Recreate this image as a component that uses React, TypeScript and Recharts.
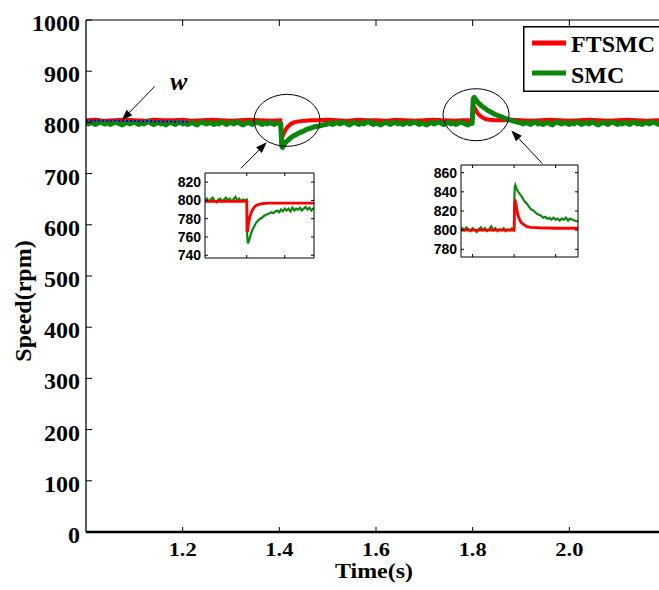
import { LineChart, Line, XAxis, YAxis, Legend, ReferenceDot } from "recharts";

const SERIF = '"Liberation Serif", "Times New Roman", serif';
const SANS = '"Liberation Sans", Arial, sans-serif';

// main chart axes
const xTicks = [1.2, 1.4, 1.6, 1.8, 2.0];
const yTicks = [0, 100, 200, 300, 400, 500, 600, 700, 800, 900, 1000];

// SMC speed (green)
const smcTime = [
  1.0, 1.005, 1.01, 1.015, 1.02, 1.025, 1.03, 1.035, 1.04, 1.045,
  1.05, 1.055, 1.06, 1.065, 1.07, 1.075, 1.08, 1.085, 1.09, 1.095,
  1.1, 1.105, 1.11, 1.115, 1.12, 1.125, 1.13, 1.135, 1.14, 1.145,
  1.15, 1.155, 1.16, 1.165, 1.17, 1.175, 1.18, 1.185, 1.19, 1.195,
  1.2, 1.205, 1.21, 1.215, 1.22, 1.225, 1.23, 1.235, 1.24, 1.245,
  1.25, 1.255, 1.26, 1.265, 1.27, 1.275, 1.28, 1.285, 1.29, 1.295,
  1.3, 1.305, 1.31, 1.315, 1.32, 1.325, 1.33, 1.335, 1.34, 1.345,
  1.35, 1.355, 1.36, 1.365, 1.37, 1.375, 1.38, 1.385, 1.39, 1.395,
  1.4,
  1.403, 1.405, 1.407, 1.41, 1.414, 1.42, 1.425, 1.43, 1.436, 1.442, 1.45, 1.458, 1.466, 1.474, 1.482, 1.49, 1.5,
  1.505, 1.51, 1.515, 1.52, 1.525, 1.53, 1.535, 1.54, 1.545, 1.55,
  1.555, 1.56, 1.565, 1.57, 1.575, 1.58, 1.585, 1.59, 1.595, 1.6,
  1.605, 1.61, 1.615, 1.62, 1.625, 1.63, 1.635, 1.64, 1.645, 1.65,
  1.655, 1.66, 1.665, 1.67, 1.675, 1.68, 1.685, 1.69, 1.695, 1.7,
  1.705, 1.71, 1.715, 1.72, 1.725, 1.73, 1.735, 1.74, 1.745, 1.75,
  1.755, 1.76, 1.765, 1.77, 1.775, 1.78, 1.785, 1.79, 1.795,
  1.799, 1.801, 1.803, 1.806, 1.81, 1.815, 1.82, 1.826, 1.832, 1.84, 1.848, 1.856, 1.864, 1.872, 1.88, 1.89, 1.9,
  1.905, 1.91, 1.915, 1.92, 1.925, 1.93, 1.935, 1.94, 1.945, 1.95,
  1.955, 1.96, 1.965, 1.97, 1.975, 1.98, 1.985, 1.99, 1.995, 2.0,
  2.005, 2.01, 2.015, 2.02, 2.025, 2.03, 2.035, 2.04, 2.045, 2.05,
  2.055, 2.06, 2.065, 2.07, 2.075, 2.08, 2.085, 2.09, 2.095, 2.1,
  2.105, 2.11, 2.115, 2.12, 2.125, 2.13, 2.135, 2.14, 2.145, 2.15,
  2.155, 2.16, 2.165, 2.17, 2.175, 2.18, 2.185, 2.19, 2.195, 2.2,
];
const smcSpeed = [
  799, 797, 800, 798, 796, 799, 801, 798, 797, 800,
  796, 798, 801, 799, 797, 795, 798, 800, 797, 799,
  801, 798, 796, 799, 797, 800, 802, 798, 796, 798,
  800, 797, 799, 795, 798, 800, 798, 796, 799, 801,
  797, 799, 796, 798, 800, 797, 795, 799, 801, 798,
  797, 800, 798, 796, 799, 797, 801, 799, 796, 798,
  800, 797, 799, 801, 797, 795, 798, 800, 798, 796,
  799, 801, 798, 796, 799, 797, 800, 798, 796, 799,
  798,
  797, 753, 751, 757, 762, 767, 771, 774, 777, 780, 783, 787, 789, 792, 793, 795, 797,
  799, 796, 798, 800, 797, 799, 801, 797, 795, 798,
  800, 798, 796, 799, 797, 800, 802, 798, 796, 799,
  797, 795, 798, 800, 798, 796, 799, 801, 797, 799,
  796, 798, 800, 797, 799, 801, 798, 796, 799, 797,
  795, 798, 800, 797, 799, 801, 798, 796, 798, 800,
  797, 799, 796, 798, 801, 799, 797, 795, 798,
  798, 845, 849, 845, 840, 835, 831, 827, 823, 819, 815, 812, 809, 806, 804, 801, 799,
  797, 800, 798, 796, 799, 801, 797, 799, 796, 798,
  800, 797, 795, 799, 801, 798, 797, 800, 798, 796,
  799, 797, 801, 799, 796, 798, 800, 797, 799, 801,
  797, 795, 798, 800, 798, 796, 799, 801, 798, 796,
  799, 797, 800, 798, 796, 799, 801, 797, 799, 796,
  798, 800, 797, 799, 801, 798, 796, 799, 797, 799,
];

// FTSMC speed (red)
const ftsmcTime = [
  1.0, 1.02, 1.04, 1.06, 1.08, 1.1, 1.12, 1.14, 1.16, 1.18, 1.2, 1.22, 1.24, 1.26, 1.28, 1.3, 1.32, 1.34, 1.36, 1.38,
  1.402, 1.404, 1.406, 1.409, 1.413, 1.418, 1.424, 1.43, 1.44, 1.452, 1.466, 1.48, 1.5, 1.52, 1.54, 1.56, 1.58, 1.6,
  1.62, 1.64, 1.66, 1.68, 1.7, 1.72, 1.74, 1.76, 1.78, 1.799, 1.801, 1.803, 1.806, 1.81, 1.815, 1.821, 1.828, 1.836,
  1.846, 1.86, 1.88, 1.9, 1.92, 1.94, 1.96, 1.98, 2.0, 2.02, 2.04, 2.06, 2.08, 2.1, 2.12, 2.14, 2.16, 2.18, 2.2,
];
const ftsmcSpeed = [
  804, 805, 803, 804, 805, 804, 803, 805, 804, 804, 805, 803, 804, 805, 804, 803, 804, 805, 804, 803,
  804, 772, 771, 778, 786, 792, 797, 800, 802, 803, 804, 804, 805, 804, 803, 805, 804, 804,
  803, 805, 804, 803, 804, 805, 804, 803, 804, 804, 827, 830, 825, 818, 813, 809, 806, 805,
  804, 804, 805, 804, 803, 804, 805, 804, 803, 804, 805, 804, 803, 804, 805, 804, 803, 804, 804,
];

// reference speed w (blue dotted)
const refTime = [1.0, 1.21];
const refSpeed = [804, 801];

// inset 1: load step at 1.4 s
const in1XTicks = [1.4, 1.5];
const in1YTicks = [740, 760, 780, 800, 820];
const in1SmcTime = [
  1.29, 1.295, 1.3, 1.305, 1.31, 1.315, 1.32, 1.325, 1.33, 1.335, 1.34, 1.345, 1.35, 1.355, 1.36, 1.365, 1.37, 1.375,
  1.38, 1.385, 1.39, 1.395, 1.4, 1.4005, 1.401, 1.403, 1.406, 1.41, 1.415, 1.42, 1.425, 1.43, 1.435, 1.44, 1.445, 1.45,
  1.455, 1.46, 1.465, 1.47, 1.475, 1.48, 1.485, 1.49, 1.495, 1.5, 1.505, 1.51, 1.515, 1.52, 1.525, 1.53, 1.535, 1.54,
  1.545, 1.55, 1.555, 1.56, 1.565, 1.57, 1.577,
];
const in1SmcSpeed = [
  800, 802, 799, 801, 803, 800, 798, 801, 802, 799, 801, 803, 800, 802, 799, 801, 804, 800,
  802, 799, 801, 800, 801, 790, 762, 753, 756, 762, 768, 772, 776, 778, 780, 781, 783, 784,
  785, 786, 787, 786, 788, 789, 787, 790, 788, 791, 789, 791, 788, 792, 789, 791, 790, 792,
  789, 791, 793, 790, 792, 789, 792,
];
const in1FtsmcTime = [1.29, 1.33, 1.37, 1.4, 1.4005, 1.402, 1.405, 1.408, 1.412, 1.417, 1.423, 1.43, 1.44, 1.46, 1.5, 1.54, 1.577];
const in1FtsmcSpeed = [799, 799, 799, 799, 767, 767, 776, 782, 787, 791, 794, 795.5, 796.5, 797, 797, 797, 797];

// inset 2: load drop at 1.8 s
const in2XTicks = [1.7, 1.8, 1.9];
const in2YTicks = [780, 800, 820, 840, 860];
const in2SmcTime = [
  1.672, 1.675, 1.68, 1.685, 1.69, 1.695, 1.7, 1.705, 1.71, 1.715, 1.72, 1.725, 1.73, 1.735, 1.74, 1.745, 1.75, 1.755,
  1.76, 1.765, 1.77, 1.775, 1.78, 1.785, 1.79, 1.795, 1.8, 1.8005, 1.8015, 1.803, 1.806, 1.81, 1.815, 1.82, 1.825, 1.83,
  1.835, 1.84, 1.845, 1.85, 1.855, 1.86, 1.865, 1.87, 1.875, 1.88, 1.885, 1.89, 1.895, 1.9, 1.905, 1.91, 1.915, 1.92,
  1.925, 1.93, 1.935, 1.94, 1.945, 1.954,
];
const in2SmcSpeed = [
  799, 802, 800, 803, 801, 799, 802, 800, 798, 801, 803, 800, 802, 799, 801, 804, 800, 802,
  799, 801, 800, 802, 799, 801, 800, 802, 800, 830, 845, 847, 843, 840, 837, 834, 830, 828,
  825, 822, 821, 819, 817, 816, 815, 813, 814, 812, 813, 811, 813, 811, 812, 810, 812, 811,
  813, 810, 812, 811, 810, 809,
];
const in2FtsmcTime = [1.672, 1.72, 1.76, 1.8, 1.8008, 1.802, 1.805, 1.808, 1.812, 1.817, 1.823, 1.83, 1.84, 1.86, 1.9, 1.954];
const in2FtsmcSpeed = [800, 800, 800, 800, 818, 832, 826, 818, 812, 808, 806, 804, 803, 802.5, 802, 802];

const zip = (t: number[], v: number[]) => t.map((x, i) => ({ t: x, v: v[i] }));

const smcData = zip(smcTime, smcSpeed);
const ftsmcData = zip(ftsmcTime, ftsmcSpeed);
const refData = zip(refTime, refSpeed);

const RED = "#ff0000";
const GREEN = "#0a870a";

const MainYTick = (p: any) => (
  <g>
    <line x1={p.x} x2={p.x + 6} y1={p.y} y2={p.y} stroke="#000" strokeWidth={1} />
    <text x={p.x - 6} y={p.y + 3} textAnchor="end" dominantBaseline="central" fontFamily={SERIF} fontSize={24} fontWeight="bold" fill="#000">
      {p.payload.value}
    </text>
  </g>
);

const MainXTick = (p: any) => (
  <g>
    <line x1={p.x} x2={p.x} y1={p.y} y2={p.y - 5} stroke="#000" strokeWidth={1} />
    <text x={p.x} y={p.y + 18} textAnchor="middle" dominantBaseline="central" fontFamily={SERIF} fontSize={18} fontWeight="bold" fill="#000" textLength={28} lengthAdjust="spacingAndGlyphs">
      {Number(p.payload.value).toFixed(1)}
    </text>
  </g>
);

const TopTick = (len: number) => (p: any) => <line x1={p.x} x2={p.x} y1={p.y} y2={p.y + len} stroke="#000" strokeWidth={1} />;
const BottomTick = (len: number) => (p: any) => <line x1={p.x} x2={p.x} y1={p.y} y2={p.y - len} stroke="#000" strokeWidth={1} />;
const RightTick = (len: number) => (p: any) => <line x1={p.x} x2={p.x - len} y1={p.y} y2={p.y} stroke="#000" strokeWidth={1} />;

const InsetYTick = (p: any) => (
  <g>
    <line x1={p.x} x2={p.x + 3} y1={p.y} y2={p.y} stroke="#000" strokeWidth={1} />
    <text x={p.x - 4} y={p.y} textAnchor="end" dominantBaseline="central" fontFamily={SANS} fontSize={14} fontWeight="bold" fill="#000">
      {p.payload.value}
    </text>
  </g>
);

const arrowShape = (dx: number, dy: number, label?: string) => (p: any) => {
  const { cx, cy } = p;
  const len = Math.hypot(dx, dy);
  const ux = -dx / len;
  const uy = -dy / len;
  const hl = 11;
  const hw = 4;
  const bx = cx - ux * hl;
  const by = cy - uy * hl;
  const pts = `${cx},${cy} ${bx - uy * hw},${by + ux * hw} ${bx + uy * hw},${by - ux * hw}`;
  return (
    <g>
      <line x1={cx + dx} y1={cy + dy} x2={bx} y2={by} stroke="#000" strokeWidth={1} />
      <polygon points={pts} fill="#000" />
      {label && (
        <text x={cx + 57} y={cy - 39} textAnchor="middle" dominantBaseline="central" fontFamily={SERIF} fontSize={26} fontWeight="bold" fontStyle="italic" fill="#000">
          {label}
        </text>
      )}
    </g>
  );
};

const ellipseShape = (p: any) => <ellipse cx={p.cx} cy={p.cy} rx={33} ry={26} fill="none" stroke="#000" strokeWidth={1} />;

const renderLegend = (props: any) => (
  <svg width={170} height={66} style={{ display: "block" }}>
    <rect x={0.75} y={0.75} width={180} height={64.5} fill="#fff" stroke="#000" strokeWidth={1.5} />
    {(props.payload || []).map((e: any, i: number) => (
      <g key={e.value}>
        <line x1={9} x2={43} y1={17 + 30 * i} y2={17 + 30 * i} stroke={e.color} strokeWidth={5} />
        <text x={48} y={26 + 31 * i} fontFamily={SERIF} fontSize={24} fontWeight="bold" fill="#000">
          {e.value}
        </text>
      </g>
    ))}
  </svg>
);

type InsetProps = {
  left: number;
  top: number;
  w: number;
  h: number;
  xDomain: number[];
  xTicks: number[];
  yDomain: number[];
  yTicks: number[];
  smc: { t: number; v: number }[];
  ftsmc: { t: number; v: number }[];
};

// left/top/w/h give the plot box of the inset on the page
const Inset = ({ left, top, w, h, xDomain, xTicks, yDomain, yTicks, smc, ftsmc }: InsetProps) => (
  <div style={{ position: "absolute", left: left - 40, top: top - 7 }}>
    <LineChart width={40 + w + 1 + 4} height={h + 16} margin={{ top: 6, right: 4, bottom: 8, left: 0 }}>
      <XAxis dataKey="t" type="number" domain={xDomain} ticks={xTicks} interval={0} height={1} tickSize={0} tickMargin={0}
        axisLine={{ stroke: "#000" }} tickLine={false} tick={BottomTick(3)} allowDataOverflow />
      <XAxis xAxisId="top" dataKey="t" type="number" orientation="top" domain={xDomain} ticks={xTicks} interval={0} height={1}
        tickSize={0} tickMargin={0} axisLine={{ stroke: "#000" }} tickLine={false} tick={TopTick(3)} allowDataOverflow />
      <YAxis type="number" domain={yDomain} ticks={yTicks} interval={0} width={40} tickSize={0} tickMargin={0}
        axisLine={{ stroke: "#000" }} tickLine={false} tick={InsetYTick} allowDataOverflow />
      <YAxis yAxisId="right" orientation="right" type="number" domain={yDomain} ticks={yTicks} interval={0} width={1}
        tickSize={0} tickMargin={0} axisLine={{ stroke: "#000" }} tickLine={false} tick={RightTick(3)} allowDataOverflow />
      <Line data={smc} dataKey="v" stroke={GREEN} strokeWidth={2.2} dot={false} activeDot={false} isAnimationActive={false} />
      <Line data={ftsmc} dataKey="v" stroke={RED} strokeWidth={2.8} dot={false} activeDot={false} isAnimationActive={false} />
    </LineChart>
  </div>
);

export default function App() {
  return (
    <div style={{ position: "fixed", left: 0, top: 0, width: 659, height: 590, overflow: "hidden", background: "#fff" }}>
      <LineChart width={680} height={590} margin={{ top: 19, right: 14, bottom: 0, left: 0 }}>
        <XAxis
          dataKey="t"
          type="number"
          domain={[1, 2.2]}
          ticks={xTicks}
          interval={0}
          height={58}
          tickSize={0}
          tickMargin={0}
          axisLine={{ stroke: "#000", strokeWidth: 2.5 }}
          tickLine={false}
          tick={MainXTick}
          allowDataOverflow
          label={{
            content: () => (
              <text x={374} y={578} textAnchor="middle" fontFamily={SERIF} fontSize={20} fontWeight="bold" fill="#000" textLength={78} lengthAdjust="spacingAndGlyphs">
                Time(s)
              </text>
            ),
          }}
        />
        <XAxis xAxisId="top" dataKey="t" type="number" orientation="top" domain={[1, 2.2]} ticks={xTicks} interval={0} height={1}
          tickSize={0} tickMargin={0} axisLine={{ stroke: "#000" }} tickLine={false} tick={TopTick(6)} allowDataOverflow />
        <YAxis
          type="number"
          domain={[0, 1000]}
          ticks={yTicks}
          interval={0}
          width={86}
          tickSize={0}
          tickMargin={0}
          axisLine={{ stroke: "#000", strokeWidth: 1.3 }}
          tickLine={false}
          tick={MainYTick}
          allowDataOverflow
          label={{
            content: () => (
              <text x={31} y={301} transform="rotate(-90 31 301)" textAnchor="middle" fontFamily={SERIF} fontSize={24} fontWeight="bold" fill="#000">
                Speed(rpm)
              </text>
            ),
          }}
        />
        <Legend layout="vertical" align="center" verticalAlign="middle" content={renderLegend}
          wrapperStyle={{ left: 523, top: 26, width: 170, height: 66 }} />
        <Line name="FTSMC" data={ftsmcData} dataKey="v" stroke={RED} strokeWidth={4} dot={false} activeDot={false} isAnimationActive={false} />
        <Line name="SMC" data={smcData} dataKey="v" stroke={GREEN} strokeWidth={5} strokeLinejoin="round" dot={false} activeDot={false} isAnimationActive={false} />
        <Line name="w" data={refData} dataKey="v" stroke="#0000ff" strokeWidth={2} strokeDasharray="2 2" legendType="none" dot={false} activeDot={false} isAnimationActive={false} />
        <ReferenceDot x={1.416} y={804} r={1} shape={ellipseShape} />
        <ReferenceDot x={1.807} y={815} r={1} shape={ellipseShape} />
        <ReferenceDot x={1.074} y={804} r={1} shape={arrowShape(33, -34, "w")} />
        <ReferenceDot x={1.374} y={761} r={1} shape={arrowShape(-26, 26)} />
        <ReferenceDot x={1.88} y={784} r={1} shape={arrowShape(31, 33)} />
      </LineChart>
      <Inset left={205} top={173} w={109} h={85} xDomain={[1.29, 1.577]} xTicks={in1XTicks} yDomain={[737, 830]} yTicks={in1YTicks}
        smc={zip(in1SmcTime, in1SmcSpeed)} ftsmc={zip(in1FtsmcTime, in1FtsmcSpeed)} />
      <Inset left={461} top={165} w={117} h={92} xDomain={[1.672, 1.954]} xTicks={in2XTicks} yDomain={[772, 868]} yTicks={in2YTicks}
        smc={zip(in2SmcTime, in2SmcSpeed)} ftsmc={zip(in2FtsmcTime, in2FtsmcSpeed)} />
    </div>
  );
}
